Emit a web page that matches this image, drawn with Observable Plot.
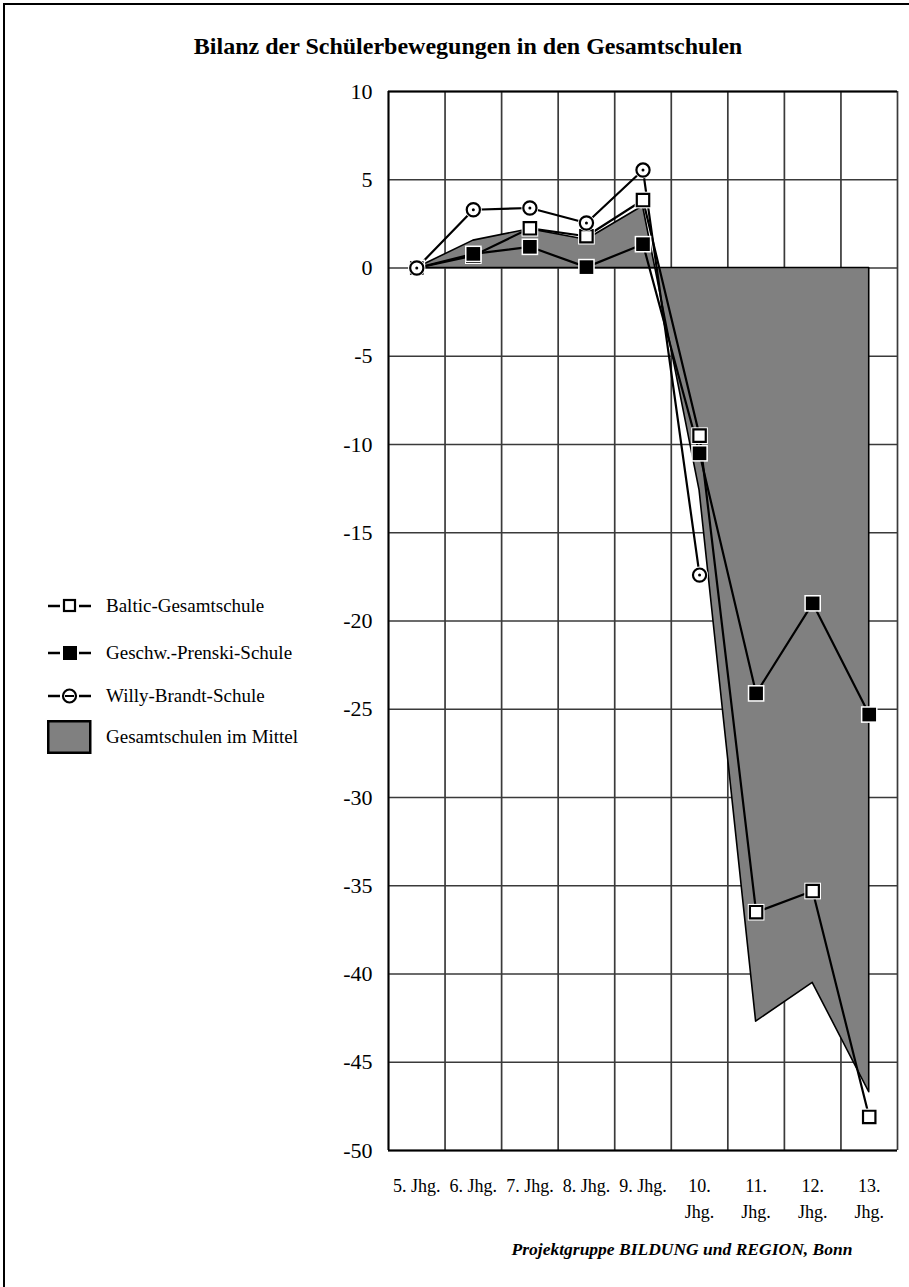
<!DOCTYPE html>
<html>
<head>
<meta charset="utf-8">
<script src="https://cdn.jsdelivr.net/npm/d3@7"></script>
<script src="https://cdn.jsdelivr.net/npm/@observablehq/plot@0.6"></script>
<style>
  body { margin: 0; background: #fff; font-family: "Liberation Serif", "Times New Roman", serif; }
  #wrap { position: relative; width: 909px; height: 1287px; overflow: hidden; background: #fff; }
  #frame { position: absolute; left: 3px; top: 3px; width: 1000px; height: 1400px; border-left: 2.5px solid #000; border-top: 2.5px solid #000; pointer-events: none; }
  #title { position: absolute; left: 468px; top: 32px; transform: translateX(-50%); white-space: nowrap; font-weight: bold; font-size: 24px; line-height: 28px; color: #000; }
  #caption { position: absolute; left: 682px; top: 1238px; transform: translateX(-50%); white-space: nowrap; font-weight: bold; font-style: italic; font-size: 17.5px; line-height: 22px; color: #000; }
  #chart { position: absolute; left: 0; top: 0; }
  .leg { position: absolute; left: 47px; display: flex; align-items: center; font-size: 19px; color: #000; white-space: nowrap; }
  .leg svg { margin-right: 14px; }
</style>
</head>
<body>
<div id="wrap">
  <div id="chart"></div>
  <div id="title">Bilanz der Schülerbewegungen in den Gesamtschulen</div>
  <div id="legend"></div>
  <div id="caption">Projektgruppe BILDUNG und REGION, Bonn</div>
  <div id="frame"></div>
</div>
<script>
// ---- data ----
const categories = ["5. Jhg.", "6. Jhg.", "7. Jhg.", "8. Jhg.", "9. Jhg.", "10.\nJhg.", "11.\nJhg.", "12.\nJhg.", "13.\nJhg."];
const balticValues = [0, 0.7, 2.25, 1.8, 3.85, -9.5, -36.5, -35.3, -48.1];
const prenskiValues = [0, 0.8, 1.2, 0.05, 1.35, -10.5, -24.1, -19.0, -25.3];
const willyValues = [0, 3.3, 3.4, 2.55, 5.55, -17.4];
const mittelValues = [0, 1.55, 2.2, 1.6, 3.5, -12.6, -42.7, -40.5, -46.7];
const yTicks = [10, 5, 0, -5, -10, -15, -20, -25, -30, -35, -40, -45, -50];
const seriesNames = ["Baltic-Gesamtschule", "Geschw.-Prenski-Schule", "Willy-Brandt-Schule", "Gesamtschulen im Mittel"];

// ---- tables ----
const rows = vals => vals.map((v, i) => ({x: i + 0.5, v}));
const baltic = rows(balticValues);
const prenski = rows(prenskiValues);
const willy = rows(willyValues);
const mittel = rows(mittelValues);
const bounds = d3.range(0, categories.length + 1);
const centers = categories.map((c, i) => i + 0.5);

const grid = "#3a3a3a";
const sq = 7.0;     // square symbol radius (side ≈ 12.4px)
const sqHalo = 9.4;

const chart = Plot.plot({
  width: 909,
  height: 1287,
  marginLeft: 388,
  marginRight: 12,
  marginTop: 91,
  marginBottom: 137,
  style: {fontFamily: "Liberation Serif, Times New Roman, serif", background: "transparent", color: "#000"},
  x: {type: "linear", domain: [0, categories.length], axis: null},
  y: {domain: [-50, 10], axis: null},
  marks: [
    Plot.ruleY(yTicks, {stroke: grid, strokeWidth: 1.7}),
    Plot.ruleX(bounds, {stroke: grid, strokeWidth: 1.7}),
    Plot.areaY(mittel, {x: "x", y: "v", fill: "#808080", stroke: "#000", strokeWidth: 1.6}),
    Plot.ruleY([10, -50], {stroke: "#000", strokeWidth: 1.8}),
    Plot.ruleX([0], {stroke: "#000", strokeWidth: 1.8}),
    // lines
    Plot.lineY(willy, {x: "x", y: "v", stroke: "#000", strokeWidth: 2.2}),
    Plot.lineY(baltic, {x: "x", y: "v", stroke: "#000", strokeWidth: 2.2}),
    Plot.lineY(prenski, {x: "x", y: "v", stroke: "#000", strokeWidth: 2.2}),
    // Baltic markers
    Plot.dot(baltic, {x: "x", y: "v", symbol: "square", r: sqHalo, fill: "#fff", stroke: "none"}),
    Plot.dot(baltic, {x: "x", y: "v", symbol: "square", r: sq, fill: "#fff", stroke: "#000", strokeWidth: 2.2}),
    // Prenski markers
    Plot.dot(prenski, {x: "x", y: "v", symbol: "square", r: sqHalo, fill: "#fff", stroke: "none"}),
    Plot.dot(prenski, {x: "x", y: "v", symbol: "square", r: sq + 0.7, fill: "#000", stroke: "none"}),
    // Willy markers
    Plot.dot(willy, {x: "x", y: "v", r: 8.5, fill: "#fff", stroke: "none"}),
    Plot.dot(willy, {x: "x", y: "v", r: 6.6, fill: "#fff", stroke: "#000", strokeWidth: 2.2}),
    Plot.dot(willy, {x: "x", y: "v", r: 1.5, fill: "#000", stroke: "none"}),
    // axes
    Plot.axisY(yTicks, {label: null, tickSize: 0, tickPadding: 16, fontSize: 22, textAnchor: "end", tickFormat: d => String(d)}),
    Plot.axisX(centers, {label: null, tickSize: 0, tickPadding: 23, fontSize: 18, lineHeight: 1.45, tickFormat: (d, i) => categories[i]})
  ]
});
document.getElementById("chart").appendChild(chart);

// ---- legend ----
const legendTop = [606, 653, 696, 737];
const legend = document.getElementById("legend");
const icons = [
  `<svg width="45" height="20"><line x1="1" y1="10" x2="13" y2="10" stroke="#000" stroke-width="2.5"/><line x1="32" y1="10" x2="44" y2="10" stroke="#000" stroke-width="2.5"/><rect x="17" y="4" width="11" height="11" fill="#fff" stroke="#000" stroke-width="2.2"/></svg>`,
  `<svg width="45" height="20"><line x1="1" y1="10" x2="13" y2="10" stroke="#000" stroke-width="2.5"/><line x1="32" y1="10" x2="44" y2="10" stroke="#000" stroke-width="2.5"/><rect x="16" y="3" width="14" height="14" fill="#000"/></svg>`,
  `<svg width="45" height="20"><line x1="1" y1="10" x2="13" y2="10" stroke="#000" stroke-width="2.5"/><line x1="32" y1="10" x2="44" y2="10" stroke="#000" stroke-width="2.5"/><circle cx="22.5" cy="10" r="6.5" fill="#fff" stroke="#000" stroke-width="2.2"/><line x1="18" y1="10" x2="27" y2="10" stroke="#000" stroke-width="2"/></svg>`,
  `<svg width="45" height="34"><rect x="1.25" y="1.25" width="42" height="31.5" fill="#808080" stroke="#000" stroke-width="2.5"/></svg>`
];
seriesNames.forEach((name, i) => {
  const d = document.createElement("div");
  d.className = "leg";
  d.innerHTML = icons[i] + `<span>${name}</span>`;
  legend.appendChild(d);
  const h = d.getBoundingClientRect().height;
  d.style.top = (legendTop[i] - h / 2) + "px";
});
</script>
</body>
</html>
